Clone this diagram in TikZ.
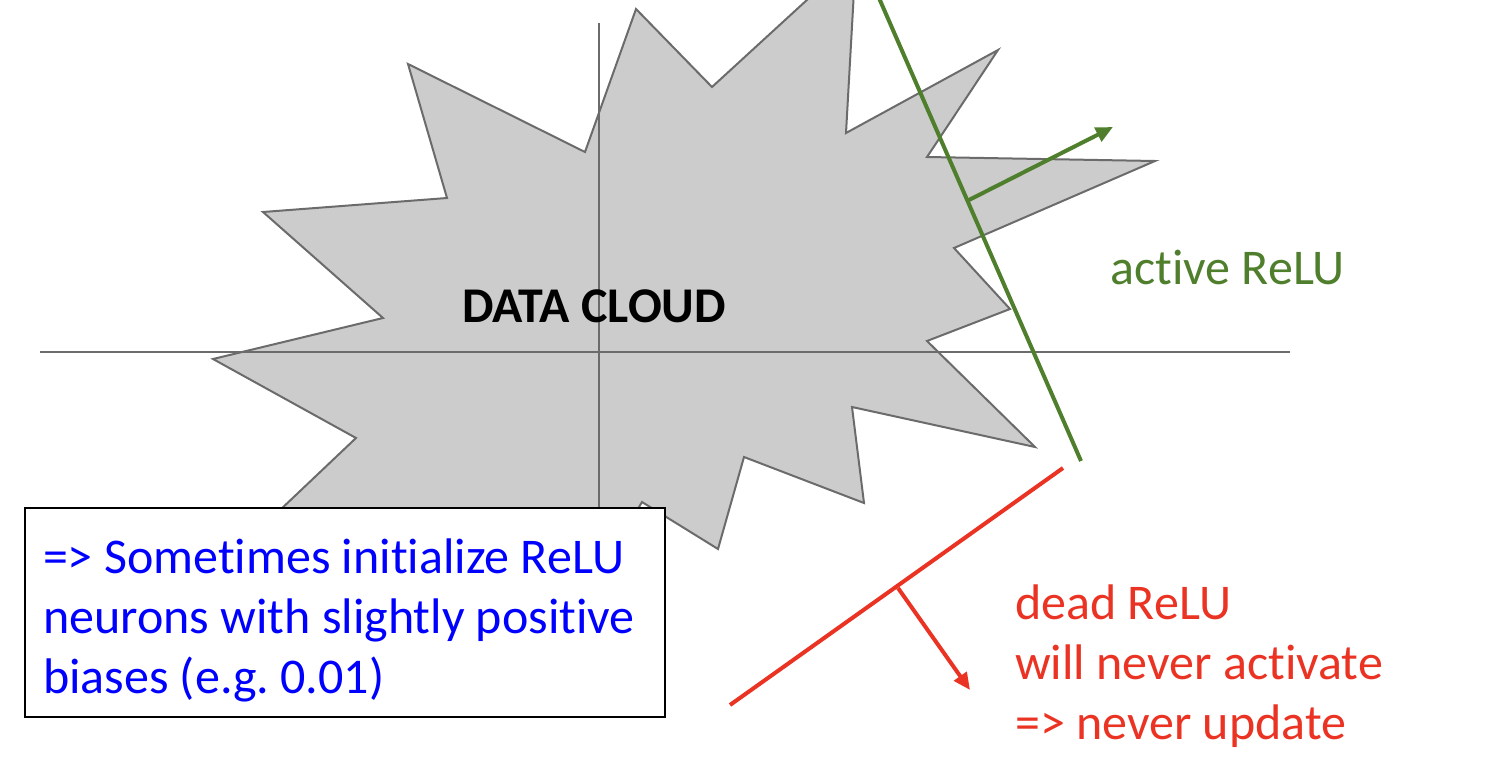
\documentclass[tikz,border=0pt]{standalone}
\usepackage{fontspec}
\setmainfont{Carlito}[RawFeature=-liga]
\usetikzlibrary{arrows.meta}
\definecolor{cloudfill}{HTML}{CCCCCC}
\definecolor{cloudline}{HTML}{6B6B6B}
\definecolor{relugreen}{HTML}{4F7F2C}
\definecolor{relured}{HTML}{EA3323}
\definecolor{noteblue}{HTML}{0000FF}
\tikzset{
  cloud/.style={fill=cloudfill, draw=cloudline, line width=2pt, line join=miter},
  axis/.style={draw=cloudline, line width=2pt},
  bigtext/.style={font=\fontsize{50}{60}\selectfont, inner sep=0pt},
  greenline/.style={draw=relugreen, line width=4pt},
  redline/.style={draw=relured, line width=4pt},
  greenarrow/.style={greenline, -{Triangle[length=17pt,width=15pt]}},
  redarrow/.style={redline, -{Triangle[length=17pt,width=15pt]}},
  notebox/.style={draw=black, line width=1.3pt, fill=white, minimum width=640pt,
    minimum height=209pt, text width=604pt, align=flush left, inner sep=0pt,
    font=\fontsize{50}{60}\selectfont, text=noteblue}
}
\begin{document}
\frenchspacing
\begin{tikzpicture}[x=1pt, y=-1pt]
\useasboundingbox (0,0) rectangle (1504,760);
\clip (0,0) rectangle (1504,760);
% data cloud
\path[cloud] (213,359) -- (383,318) -- (263,212) -- (447,198) -- (408,64)
  -- (585,152) -- (636,9) -- (712,87) -- (856,-45) -- (846,133) -- (998,50)
  -- (927,157) -- (1155,161) -- (954,248) -- (1010,309) -- (927,341)
  -- (1035,447) -- (852,407) -- (864,503) -- (744,457) -- (718,549)
  -- (642,502) -- (560,640) -- (470,565) -- (240,548) -- (356,438) -- cycle;
% axes
\coordinate (xl) at (40,352);
\coordinate (xr) at (1290,352);
\coordinate (yt) at (599,23);
\coordinate (yb) at (599,640);
\draw[axis] (xl) -- (xr);
\draw[axis] (yt) -- (yb);
\node[bigtext, anchor=base west, font=\fontsize{50}{60}\selectfont\bfseries] (cloudlabel) at (462,322) {DATA CLOUD};
% active ReLU
\coordinate (gtop) at (879,-2);
\coordinate (gbot) at (1081,461);
\coordinate (gfoot) at (967,201);
\coordinate (gtip) at (1113,127);
\draw[greenline] (gtop) -- (gbot);
\draw[greenarrow] (gfoot) -- (gtip);
\node[bigtext, anchor=base west, text=relugreen] (active) at (1110,284) {active ReLU};
% dead ReLU
\coordinate (rtop) at (1063,468);
\coordinate (rbot) at (730,705);
\coordinate (rfoot) at (898,588);
\coordinate (rtip) at (970,690);
\draw[redline] (rtop) -- (rbot);
\draw[redarrow] (rfoot) -- (rtip);
\node[bigtext, anchor=base west, text=relured] (dead1) at (1015,619) {dead ReLU};
\node[bigtext, anchor=base west, text=relured] (dead2) at (1015,679) {will never activate};
\node[bigtext, anchor=base west, text=relured] (dead3) at (1015,739) {=> never update};
% note
\node[notebox] (note) at (345,612.5) {\rule{0pt}{50pt}=> Sometimes initialize ReLU\\ neurons with slightly positive\\ biases (e.g. 0.01)};
\end{tikzpicture}
\end{document}
